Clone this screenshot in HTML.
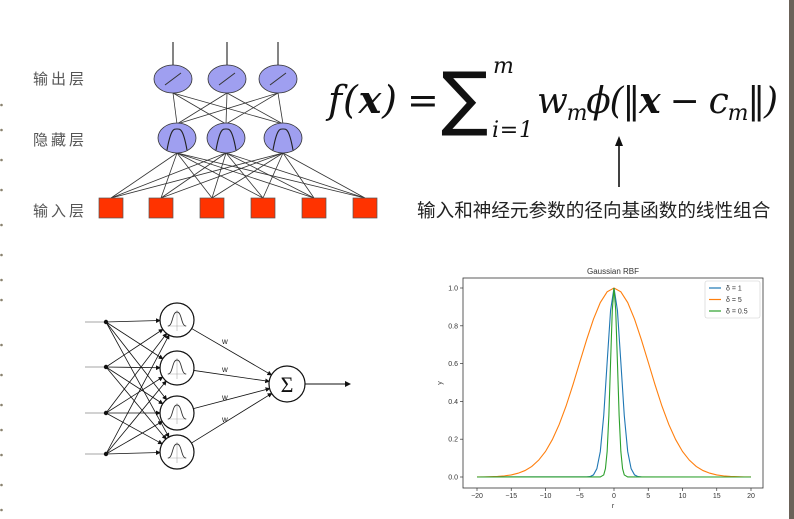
<!DOCTYPE html>
<html><head><meta charset="utf-8"><style>
html,body{margin:0;padding:0;background:#fff}
svg{display:block}
.cn{font-family:"Liberation Sans","Noto Sans CJK SC",sans-serif}
</style></head><body>
<svg id="root" width="794" height="519" viewBox="0 0 794 519" xmlns="http://www.w3.org/2000/svg">
<rect x="0" y="0" width="794" height="519" fill="#fff"/>
<rect x="789" y="0" width="5" height="519" fill="#6b6259"/>
<g id="edgeDots" fill="#8a826e"></g>

<g id="topNet">
  <g class="cn" font-size="15" fill="#555" letter-spacing="3">
    <text x="33" y="84">输出层</text>
    <text x="33" y="145">隐藏层</text>
    <text x="33" y="216">输入层</text>
  </g>
  <g id="topLines" stroke="#333" stroke-width="0.8"></g>
  <g id="topNodes"></g>
</g>

<g fill="#111" font-family="'DejaVu Serif','Liberation Serif',serif">
  <text x="328" y="113" font-size="38" font-style="italic" textLength="69">f(<tspan font-weight="bold">x</tspan>)</text>
  <text x="407" y="113" font-size="38" textLength="27">=</text>
  <text x="441" y="122" font-size="70" textLength="40" font-family="'DejaVu Sans',sans-serif">∑</text>
  <text x="493" y="73" font-size="22" font-style="italic" textLength="21">m</text>
  <text x="492" y="137" font-size="22" font-style="italic" textLength="41">i=1</text>
  <text x="537" y="113" font-size="36" font-style="italic" textLength="241">w<tspan font-size="22" dy="7">m</tspan><tspan dy="-7">ϕ(‖</tspan><tspan font-weight="bold">x</tspan> − c<tspan font-size="22" dy="7">m</tspan><tspan dy="-7">‖)</tspan></text>
</g>
<line x1="619" y1="187" x2="619" y2="143" stroke="#111" stroke-width="1.6"/>
<path d="M615,146 L619,136 L623,146 Z" fill="#111"/>
<text class="cn" x="417" y="217" font-size="18.6" fill="#222">输入和神经元参数的径向基函数的线性组合</text>

<defs><marker id="ah" markerWidth="6" markerHeight="6" refX="5" refY="3" orient="auto"><path d="M0,0 L6,3 L0,6 Z" fill="#111"/></marker></defs>
<g id="botNet"></g>

<g id="chart" font-family="'Liberation Sans','DejaVu Sans',sans-serif"></g>
</svg>
<script>
const NS="http://www.w3.org/2000/svg";
function mk(tag,attrs,parent){const e=document.createElementNS(NS,tag);for(const k in attrs)e.setAttribute(k,attrs[k]);parent.appendChild(e);return e;}

const dotYs=[105,130,160,190,225,255,280,300,345,375,405,430,455,485,510];
const ed=document.getElementById('edgeDots');
dotYs.forEach(y=>{const d=mk('circle',{cx:1.5,cy:y,r:1.3},ed);

});

const outX=[173,227,278], hidX=[177,226,283], inX=[111,161,212,263,314,365];
const tl=document.getElementById('topLines'), tn=document.getElementById('topNodes');
outX.forEach(x=>{const l=mk('line',{x1:x,y1:42,x2:x,y2:66,'stroke-width':1.2},tl);

});
outX.forEach(ox=>hidX.forEach(hx=>{const l=mk('line',{x1:hx,y1:124,x2:ox,y2:93},tl);

}));
hidX.forEach(hx=>inX.forEach(ix=>{const l=mk('line',{x1:ix,y1:198,x2:hx,y2:153},tl);

}));
outX.forEach(x=>{const g=mk('g',{},tn);


mk('ellipse',{cx:x,cy:79,rx:19,ry:14,fill:'#9f9ff0',stroke:'#333','stroke-width':0.8},g);
mk('line',{x1:x-8,y1:85,x2:x+8,y2:73,stroke:'#333','stroke-width':1},g);});
hidX.forEach(x=>{const g=mk('g',{},tn);


mk('ellipse',{cx:x,cy:138,rx:19,ry:15,fill:'#9f9ff0',stroke:'#333','stroke-width':0.8},g);
mk('path',{d:`M${x-10},150 C${x-6},128 ${x-3},129 ${x},129 C${x+3},129 ${x+6},128 ${x+10},150`,fill:'none',stroke:'#222','stroke-width':1.1},g);});
inX.forEach(x=>{const r=mk('rect',{x:x-12,y:198,width:24,height:20,fill:'#ff3300',stroke:'#555','stroke-width':0.7},tn);

});

const bn=document.getElementById('botNet');
const inY=[322,367,413,454], rbfY=[320,368,413,452];
const rbfX=177, rr=17, sx=287, sy=384, sr=18;
inY.forEach(y=>{const l=mk('line',{x1:85,y1:y,x2:106,y2:y,stroke:'#888','stroke-width':0.8},bn);

});
inY.forEach(iy=>rbfY.forEach(ry=>{const dx=rbfX-106,dy=ry-iy,L=Math.hypot(dx,dy);
const l=mk('line',{x1:106,y1:iy,x2:rbfX-dx/L*rr,y2:ry-dy/L*rr,stroke:'#111','stroke-width':0.8,'marker-end':'url(#ah)'},bn);

}));
inY.forEach(y=>{const c=mk('circle',{cx:106,cy:y,r:2.2,fill:'#111'},bn);

});
rbfY.forEach((ry,i)=>{const dx=sx-rbfX,dy=sy-ry,L=Math.hypot(dx,dy);
const l=mk('line',{x1:rbfX+dx/L*rr,y1:ry+dy/L*rr,x2:sx-dx/L*sr,y2:sy-dy/L*sr,stroke:'#111','stroke-width':0.8,'marker-end':'url(#ah)'},bn);


const t=mk('text',{x:222,y:[344,372,400,422][i],'font-size':8,'font-family':'Liberation Sans,sans-serif',fill:'#222'},bn);t.textContent='w';

});
rbfY.forEach(y=>{const g=mk('g',{},bn);


mk('circle',{cx:rbfX,cy:y,r:rr,fill:'#fff',stroke:'#111','stroke-width':1.2},g);
mk('line',{x1:rbfX-10,y1:y+6,x2:rbfX+10,y2:y+6,stroke:'#aaa','stroke-width':0.6},g);
mk('line',{x1:rbfX,y1:y-10,x2:rbfX,y2:y+11,stroke:'#aaa','stroke-width':0.6},g);
mk('path',{d:`M${rbfX-9},${y+6} C${rbfX-4},${y+6} ${rbfX-5},${y-8} ${rbfX},${y-8} C${rbfX+5},${y-8} ${rbfX+4},${y+6} ${rbfX+9},${y+6}`,fill:'none',stroke:'#333','stroke-width':0.9},g);});
{const g=mk('g',{},bn);


mk('circle',{cx:sx,cy:sy,r:sr,fill:'#fff',stroke:'#111','stroke-width':1.2},g);
const t=mk('text',{x:sx,y:sy+8,'font-size':22,'text-anchor':'middle','font-family':'Liberation Serif,serif',fill:'#111'},g);t.textContent='Σ';
const l=mk('line',{x1:sx+sr,y1:sy,x2:350,y2:sy,stroke:'#111','stroke-width':1,'marker-end':'url(#ah)'},bn);

}

const rWide=[-20,-19,-18,-17,-16,-15,-14,-13,-12,-11,-10,-9,-8,-7,-6,-5,-4,-3,-2,-1,0,1,2,3,4,5,6,7,8,9,10,11,12,13,14,15,16,17,18,19,20];
const ySigma5=[0.0003,0.0007,0.0015,0.003,0.006,0.011,0.020,0.034,0.056,0.089,0.135,0.198,0.278,0.375,0.487,0.607,0.726,0.835,0.923,0.980,1.0,0.980,0.923,0.835,0.726,0.607,0.487,0.375,0.278,0.198,0.135,0.089,0.056,0.034,0.020,0.011,0.006,0.003,0.0015,0.0007,0.0003];
const rBlue=[-20,-4,-3.5,-3,-2.5,-2,-1.5,-1,-0.5,0,0.5,1,1.5,2,2.5,3,3.5,4,20];
const ySigma1=[0,0.0003,0.0022,0.011,0.044,0.135,0.325,0.607,0.882,1.0,0.882,0.607,0.325,0.135,0.044,0.011,0.0022,0.0003,0];
const rGreen=[-20,-2,-1.5,-1.25,-1,-0.75,-0.5,-0.25,0,0.25,0.5,0.75,1,1.25,1.5,2,20];
const ySigmaHalf=[0,0.0003,0.011,0.044,0.135,0.325,0.607,0.882,1.0,0.882,0.607,0.325,0.135,0.044,0.011,0.0003,0];
const xTicks=[-20,-15,-10,-5,0,5,10,15,20];
const yTicks=[0.0,0.2,0.4,0.6,0.8,1.0];
const legendLabels=['δ = 1','δ = 5','δ = 0.5'];
const colors=['#1f77b4','#ff7f0e','#2ca02c'];

const ch=document.getElementById('chart');
const X=v=>477+(v+20)*(751-477)/40, Y=v=>477-v*(477-288);
const frame=mk('rect',{x:463,y:278,width:300,height:210,fill:'none',stroke:'#333','stroke-width':0.8},ch);


const title=mk('text',{x:613,y:274,'font-size':8,'text-anchor':'middle',fill:'#333'},ch);title.textContent='Gaussian RBF';


xTicks.forEach(v=>{mk('line',{x1:X(v),y1:488,x2:X(v),y2:491,stroke:'#333','stroke-width':0.7},ch);
const t=mk('text',{x:X(v),y:498,'font-size':7,'text-anchor':'middle',fill:'#333'},ch);t.textContent=v<0?'−'+(-v):String(v);

});
yTicks.forEach(v=>{mk('line',{x1:460,y1:Y(v),x2:463,y2:Y(v),stroke:'#333','stroke-width':0.7},ch);
const t=mk('text',{x:458,y:Y(v)+2.5,'font-size':7,'text-anchor':'end',fill:'#333'},ch);t.textContent=v.toFixed(1);

});
const xl=mk('text',{x:613,y:508,'font-size':7,'text-anchor':'middle',fill:'#333'},ch);xl.textContent='r';


const yl=mk('text',{x:442,y:383,'font-size':7,'text-anchor':'middle',fill:'#333',transform:'rotate(-90 442 383)'},ch);yl.textContent='y';


function series(xs,ys,c,name){const p=mk('polyline',{points:xs.map((x,i)=>X(x)+','+Y(ys[i])).join(' '),fill:'none',stroke:c,'stroke-width':1.1},ch);

}
series(rWide,ySigma5,colors[1],'line-delta-5');
series(rBlue,ySigma1,colors[0],'line-delta-1');
series(rGreen,ySigmaHalf,colors[2],'line-delta-0.5');
const lg=mk('g',{},ch);


mk('rect',{x:705,y:281,width:55,height:37,fill:'#fff',stroke:'#ccc','stroke-width':0.6,rx:2},lg);
legendLabels.forEach((lab,i)=>{const y=288+i*11.5;
const e=mk('g',{},lg);


mk('line',{x1:709,y1:y,x2:721,y2:y,stroke:colors[i],'stroke-width':1.2},e);
const t=mk('text',{x:726,y:y+2.5,'font-size':7,fill:'#333'},e);t.textContent=lab;});
</script>
</body></html>
